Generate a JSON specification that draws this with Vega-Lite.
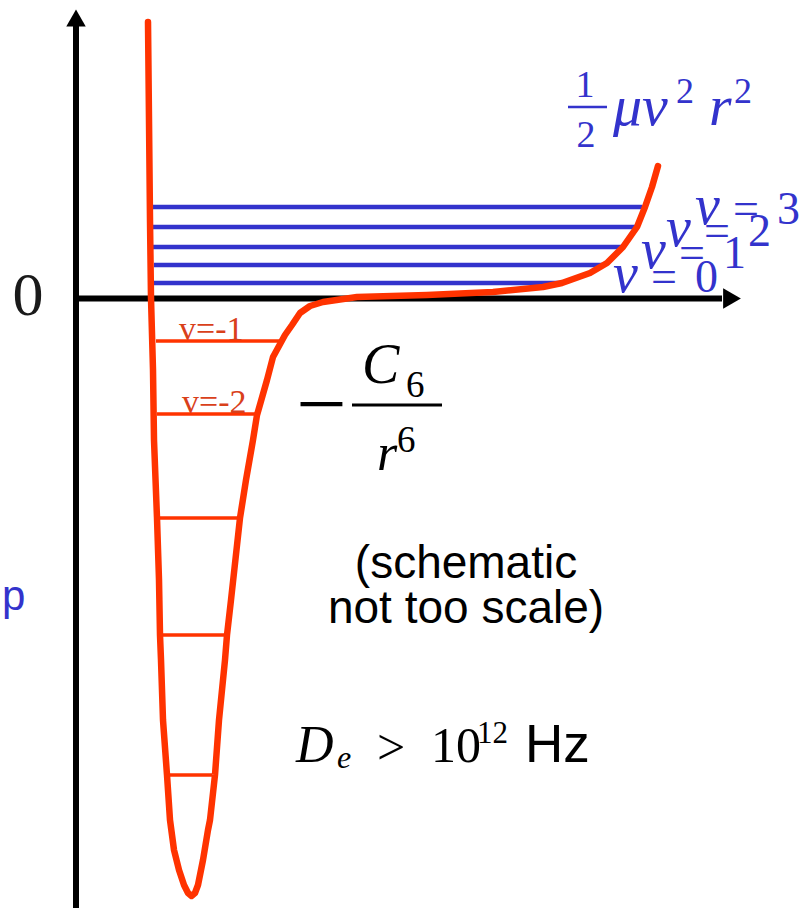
{
  "$schema": "https://vega.github.io/schema/vega-lite/v6.json",
  "width": 805,
  "height": 908,
  "autosize": {"type": "none"},
  "padding": 0,
  "background": "white",
  "config": {"view": {"stroke": null}},
  "encoding": {
    "x": {"field": "r", "type": "quantitative", "scale": {"domain": [-0.76, 7.29], "nice": false, "zero": false}, "axis": null},
    "y": {"field": "E", "type": "quantitative", "scale": {"domain": [-6.095, 2.985], "nice": false, "zero": false}, "axis": null}
  },
  "layer": [
    {
      "data": {"values": [{"r": 0, "E": 2.735, "E2": -6.095}]},
      "mark": {"type": "rule", "color": "#000000", "strokeWidth": 6},
      "encoding": {"y2": {"field": "E2"}}
    },
    {
      "data": {"values": [{"r": 0, "r2": 6.46, "E": 0}]},
      "mark": {"type": "rule", "color": "#000000", "strokeWidth": 6},
      "encoding": {"x2": {"field": "r2"}}
    },
    {
      "data": {"values": [{"r": 0, "E": 2.805}]},
      "mark": {"type": "point", "shape": "triangle-up", "size": 380, "filled": true, "color": "#000000", "opacity": 1, "strokeWidth": 0}
    },
    {
      "data": {"values": [{"r": 6.56, "E": 0}]},
      "mark": {"type": "point", "shape": "triangle-right", "size": 420, "filled": true, "color": "#000000", "opacity": 1, "strokeWidth": 0}
    },
    {
      "data": {"values": [
        {"level": 3, "r": 0.76, "r2": 5.66, "E": 0.915},
        {"level": 2, "r": 0.76, "r2": 5.59, "E": 0.715},
        {"level": 1, "r": 0.74, "r2": 5.47, "E": 0.515},
        {"level": 0, "r": 0.78, "r2": 5.26, "E": 0.335},
        {"level": -0, "r": 0.76, "r2": 4.86, "E": 0.155}
      ]},
      "mark": {"type": "rule", "color": "#3333cc", "strokeWidth": 4.5},
      "encoding": {"x2": {"field": "r2"}}
    },
    {
      "data": {"values": [
        {"level": -1, "r": 0.80, "r2": 2.05, "E": -0.425},
        {"level": -2, "r": 0.81, "r2": 1.80, "E": -1.155},
        {"level": -3, "r": 0.83, "r2": 1.61, "E": -2.195},
        {"level": -4, "r": 0.87, "r2": 1.48, "E": -3.365},
        {"level": -5, "r": 0.92, "r2": 1.36, "E": -4.765}
      ]},
      "mark": {"type": "rule", "color": "#ff3300", "strokeWidth": 3.5},
      "encoding": {"x2": {"field": "r2"}}
    },
    {
      "data": {"values": [
        {"i": 1, "r": 0.72, "E": 2.765},
        {"i": 2, "r": 0.73, "E": 1.785},
        {"i": 3, "r": 0.74, "E": 0.785},
        {"i": 4, "r": 0.75, "E": 0.005},
        {"i": 5, "r": 0.77, "E": -0.715},
        {"i": 6, "r": 0.78, "E": -1.415},
        {"i": 7, "r": 0.81, "E": -2.195},
        {"i": 8, "r": 0.83, "E": -2.815},
        {"i": 9, "r": 0.84, "E": -3.365},
        {"i": 10, "r": 0.85, "E": -3.615},
        {"i": 11, "r": 0.87, "E": -4.215},
        {"i": 12, "r": 0.91, "E": -4.765},
        {"i": 13, "r": 0.94, "E": -5.215},
        {"i": 14, "r": 0.98, "E": -5.515},
        {"i": 15, "r": 1.03, "E": -5.715},
        {"i": 16, "r": 1.08, "E": -5.865},
        {"i": 17, "r": 1.12, "E": -5.945},
        {"i": 18, "r": 1.155, "E": -5.975},
        {"i": 19, "r": 1.19, "E": -5.945},
        {"i": 20, "r": 1.22, "E": -5.865},
        {"i": 21, "r": 1.27, "E": -5.615},
        {"i": 22, "r": 1.32, "E": -5.315},
        {"i": 23, "r": 1.34, "E": -5.215},
        {"i": 24, "r": 1.39, "E": -4.765},
        {"i": 25, "r": 1.43, "E": -4.215},
        {"i": 26, "r": 1.49, "E": -3.615},
        {"i": 27, "r": 1.51, "E": -3.365},
        {"i": 28, "r": 1.55, "E": -3.015},
        {"i": 29, "r": 1.64, "E": -2.195},
        {"i": 30, "r": 1.70, "E": -1.815},
        {"i": 31, "r": 1.77, "E": -1.415},
        {"i": 32, "r": 1.81, "E": -1.165},
        {"i": 33, "r": 1.91, "E": -0.815},
        {"i": 34, "r": 1.97, "E": -0.585},
        {"i": 35, "r": 2.09, "E": -0.365},
        {"i": 36, "r": 2.16, "E": -0.265},
        {"i": 37, "r": 2.24, "E": -0.145},
        {"i": 38, "r": 2.34, "E": -0.075},
        {"i": 39, "r": 2.47, "E": -0.035},
        {"i": 40, "r": 2.81, "E": 0.015},
        {"i": 41, "r": 3.51, "E": 0.035},
        {"i": 42, "r": 4.17, "E": 0.065},
        {"i": 43, "r": 4.67, "E": 0.115},
        {"i": 44, "r": 4.86, "E": 0.155},
        {"i": 45, "r": 5.14, "E": 0.255},
        {"i": 46, "r": 5.31, "E": 0.355},
        {"i": 47, "r": 5.47, "E": 0.515},
        {"i": 48, "r": 5.61, "E": 0.715},
        {"i": 49, "r": 5.69, "E": 0.915},
        {"i": 50, "r": 5.76, "E": 1.115},
        {"i": 51, "r": 5.82, "E": 1.325}
      ]},
      "mark": {"type": "line", "color": "#ff3300", "strokeWidth": 6.5, "strokeJoin": "round", "strokeCap": "round"},
      "encoding": {"order": {"field": "i", "type": "quantitative"}}
    },
    {
      "data": {"values": [{"t": "0", "r": -0.48, "E": -0.165}]},
      "mark": {"type": "text", "font": "Liberation Serif", "fontSize": 62, "color": "#1a1a1a", "align": "center", "baseline": "alphabetic"},
      "encoding": {"text": {"field": "t"}}
    },
    {
      "data": {"values": [{"t": "p", "r": -0.74, "E": -3.115}]},
      "mark": {"type": "text", "font": "Liberation Sans", "fontSize": 42, "color": "#3333cc", "align": "left", "baseline": "alphabetic"},
      "encoding": {"text": {"field": "t"}}
    },
    {
      "data": {"values": [{"t": "v=-1", "r": 1.03, "E": -0.41}, {"t": "v=-2", "r": 1.06, "E": -1.145}]},
      "mark": {"type": "text", "font": "Liberation Serif", "fontSize": 34, "color": "#d9401a", "align": "left", "baseline": "alphabetic"},
      "encoding": {"text": {"field": "t"}}
    },
    {
      "data": {"values": [{"t": "−", "r": 2.455, "E": -1.35}]},
      "mark": {"type": "text", "font": "Liberation Serif", "fontSize": 90, "color": "#000000", "align": "center", "baseline": "alphabetic"},
      "encoding": {"text": {"field": "t"}}
    },
    {
      "data": {"values": [{"r": 2.76, "r2": 3.66, "E": -1.065}]},
      "mark": {"type": "rule", "color": "#000000", "strokeWidth": 3},
      "encoding": {"x2": {"field": "r2"}}
    },
    {
      "data": {"values": [{"t": "C", "r": 2.86, "E": -0.845}]},
      "mark": {"type": "text", "font": "Liberation Serif", "fontSize": 56, "fontStyle": "italic", "color": "#000000", "align": "left", "baseline": "alphabetic"},
      "encoding": {"text": {"field": "t"}}
    },
    {
      "data": {"values": [{"t": "r", "r": 3.01, "E": -1.715}]},
      "mark": {"type": "text", "font": "Liberation Serif", "fontSize": 52, "fontStyle": "italic", "color": "#000000", "align": "left", "baseline": "alphabetic"},
      "encoding": {"text": {"field": "t"}}
    },
    {
      "data": {"values": [{"t": "6", "r": 3.30, "E": -0.985}, {"t": "6", "r": 3.21, "E": -1.535}]},
      "mark": {"type": "text", "font": "Liberation Serif", "fontSize": 37, "color": "#000000", "align": "left", "baseline": "alphabetic"},
      "encoding": {"text": {"field": "t"}}
    },
    {
      "data": {"values": [{"t": ["(schematic", "not too scale)"], "r": 3.90, "E": -2.795}]},
      "mark": {"type": "text", "font": "Liberation Sans", "fontSize": 46, "lineHeight": 45, "color": "#000000", "align": "center", "baseline": "alphabetic"},
      "encoding": {"text": {"field": "t"}}
    },
    {
      "data": {"values": [{"t": "D", "r": 2.20, "E": -4.635}]},
      "mark": {"type": "text", "font": "Liberation Serif", "fontSize": 52, "fontStyle": "italic", "color": "#000000", "align": "left", "baseline": "alphabetic"},
      "encoding": {"text": {"field": "t"}}
    },
    {
      "data": {"values": [{"t": "e", "r": 2.61, "E": -4.695}]},
      "mark": {"type": "text", "font": "Liberation Serif", "fontSize": 32, "fontStyle": "italic", "color": "#000000", "align": "left", "baseline": "alphabetic"},
      "encoding": {"text": {"field": "t"}}
    },
    {
      "data": {"values": [{"t": ">", "r": 3.01, "E": -4.655}]},
      "mark": {"type": "text", "font": "Liberation Serif", "fontSize": 50, "color": "#000000", "align": "left", "baseline": "alphabetic"},
      "encoding": {"text": {"field": "t"}}
    },
    {
      "data": {"values": [{"t": "10", "r": 3.55, "E": -4.635}]},
      "mark": {"type": "text", "font": "Liberation Serif", "fontSize": 50, "color": "#000000", "align": "left", "baseline": "alphabetic"},
      "encoding": {"text": {"field": "t"}}
    },
    {
      "data": {"values": [{"t": "12", "r": 4.01, "E": -4.445}]},
      "mark": {"type": "text", "font": "Liberation Serif", "fontSize": 31, "color": "#000000", "align": "left", "baseline": "alphabetic"},
      "encoding": {"text": {"field": "t"}}
    },
    {
      "data": {"values": [{"t": "Hz", "r": 4.49, "E": -4.635}]},
      "mark": {"type": "text", "font": "Liberation Sans", "fontSize": 53, "color": "#000000", "align": "left", "baseline": "alphabetic"},
      "encoding": {"text": {"field": "t"}}
    },
    {
      "data": {"values": [{"t": "1", "r": 5.09, "E": 2.015}, {"t": "2", "r": 5.10, "E": 1.515}]},
      "mark": {"type": "text", "font": "Liberation Serif", "fontSize": 38, "color": "#3333cc", "align": "center", "baseline": "alphabetic"},
      "encoding": {"text": {"field": "t"}}
    },
    {
      "data": {"values": [{"r": 4.92, "r2": 5.31, "E": 1.915}]},
      "mark": {"type": "rule", "color": "#3333cc", "strokeWidth": 2.5},
      "encoding": {"x2": {"field": "r2"}}
    },
    {
      "data": {"values": [{"t": "μv", "r": 5.37, "E": 1.735}, {"t": "r", "r": 6.33, "E": 1.735}]},
      "mark": {"type": "text", "font": "Liberation Serif", "fontSize": 58, "fontStyle": "italic", "color": "#3333cc", "align": "left", "baseline": "alphabetic"},
      "encoding": {"text": {"field": "t"}}
    },
    {
      "data": {"values": [{"t": "2", "r": 6.00, "E": 1.955}, {"t": "2", "r": 6.58, "E": 1.955}]},
      "mark": {"type": "text", "font": "Liberation Serif", "fontSize": 36, "color": "#3333cc", "align": "left", "baseline": "alphabetic"},
      "encoding": {"text": {"field": "t"}}
    },
    {
      "data": {"name": "vlabels", "values": [
        {"n": "0", "r": 5.37, "E": 0.065},
        {"n": "1", "r": 5.65, "E": 0.305},
        {"n": "2", "r": 5.90, "E": 0.525},
        {"n": "3", "r": 6.19, "E": 0.745}
      ]},
      "layer": [
        {
          "mark": {"type": "text", "text": "v", "font": "Liberation Serif", "fontSize": 56, "fontStyle": "italic", "color": "#3333cc", "align": "left", "baseline": "alphabetic"}
        },
        {
          "mark": {"type": "text", "text": "=", "dx": 38, "font": "Liberation Serif", "fontSize": 46, "color": "#3333cc", "align": "left", "baseline": "alphabetic"}
        },
        {
          "mark": {"type": "text", "dx": 82, "font": "Liberation Serif", "fontSize": 46, "color": "#3333cc", "align": "left", "baseline": "alphabetic"},
          "encoding": {"text": {"field": "n"}}
        }
      ]
    }
  ]
}
